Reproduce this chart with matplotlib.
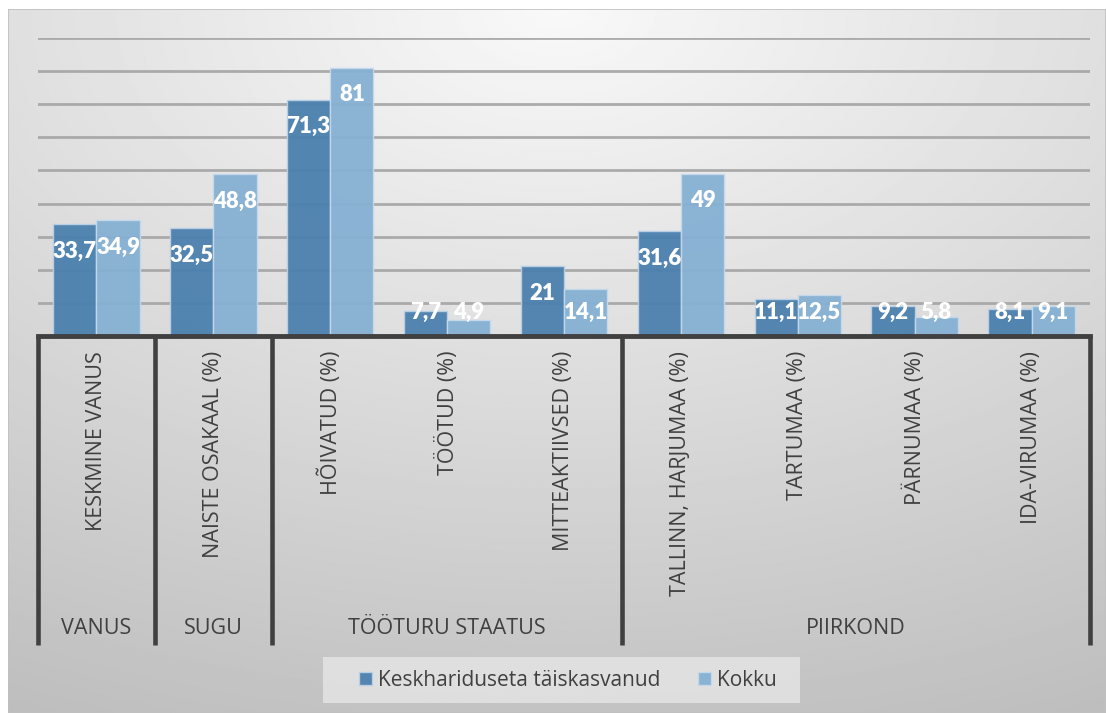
import numpy as np
import matplotlib
matplotlib.use('Agg')
import matplotlib.pyplot as plt
import matplotlib.transforms as mtransforms
from matplotlib.patches import Rectangle

# data
categories = ['KESKMINE VANUS', 'NAISTE OSAKAAL (%)', 'HÕIVATUD (%)', 'TÖÖTUD (%)',
              'MITTEAKTIIVSED (%)', 'TALLINN, HARJUMAA (%)', 'TARTUMAA (%)',
              'PÄRNUMAA (%)', 'IDA-VIRUMAA (%)']
groups = ['VANUS', 'SUGU', 'TÖÖTURU STAATUS', 'PIIRKOND']
group_sizes = [1, 1, 3, 4]
keskhar = [33.7, 32.5, 71.3, 7.7, 21, 31.6, 11.1, 9.2, 8.1]
kokku = [34.9, 48.8, 81, 4.9, 14.1, 49, 12.5, 5.8, 9.1]
series_names = ['Keskhariduseta täiskasvanud', 'Kokku']

W, H = 1106, 713
dark = '#4b80ae'
light = '#85b0d3'
txt = '#404040'

fig = plt.figure(figsize=(W / 100, H / 100), dpi=100)
fig.patch.set_facecolor('white')

# gradient background of chart area
bg = fig.add_axes([8 / W, 0, 1 - 8 / W, 1 - 9 / H])
bg.set_axis_off()
yy, xx = np.mgrid[0:1:300j, 0:1:500j]
d = np.sqrt(((xx - 0.5) * 1.0) ** 2 + (yy * 1.05) ** 2)
img = 0.975 - 0.2 * d
bg.imshow(img, cmap='gray', vmin=0, vmax=1, aspect='auto', extent=[0, 1, 1, 0])
bg.set_xlim(0, 1)
bg.set_ylim(1, 0)
bg.add_patch(Rectangle((0, 0), 1, 1, fill=False, edgecolor='#c0c0c0', lw=1.2))

ax = fig.add_axes([38 / W, (H - 336) / H, 1052 / W, 298 / H])
ax.patch.set_alpha(0)
x = np.arange(len(categories))
bw = 0.37
ax.set_xlim(-0.5, len(categories) - 0.5)
ax.set_ylim(0, 90)
ax.set_yticks(np.arange(10, 91, 10))
ax.grid(axis='y', color='#a4a4a4', lw=2, alpha=0.9)
ax.set_axisbelow(True)
for s in ax.spines.values():
    s.set_visible(False)
ax.tick_params(left=False, bottom=False, labelleft=False, labelbottom=False)

b1 = ax.bar(x - bw / 2, keskhar, bw, color=dark, edgecolor='#b9d0e6', lw=1, alpha=0.95,
            label=series_names[0], zorder=3)
b2 = ax.bar(x + bw / 2, kokku, bw, color=light, edgecolor='#c4d9ec', lw=1, alpha=0.95,
            label=series_names[1], zorder=3)

for xs, vals in [(x - bw / 2, keskhar), (x + bw / 2, kokku)]:
    for xi, v in zip(xs, vals):
        ly = max(v - 8.1, 7.2)
        ax.text(xi, ly, f'{v:g}'.replace('.', ','), ha='center', va='center',
                color='white', fontsize=16, fontweight='heavy', family='Lato', zorder=5)

ax.axhline(0, color=txt, lw=3.5, zorder=6, clip_on=False)

# multi level category axis
trans = mtransforms.blended_transform_factory(ax.transData, fig.transFigure)
y_top = (H - 336) / H
y_bot = (H - 645) / H
bounds = np.concatenate([[0], np.cumsum(group_sizes)]) - 0.5
for b in bounds:
    ax.plot([b, b], [y_top, y_bot], color=txt, lw=3.3, transform=trans, clip_on=False,
            solid_capstyle='butt', zorder=6)

for xi, c in zip(x, categories):
    ax.text(xi, (H - 351) / H, c, rotation=90, ha='center', va='top', color=txt,
            fontsize=15.5, family='Open Sans', transform=trans)

for g, a, b in zip(groups, bounds[:-1], bounds[1:]):
    ax.text((a + b) / 2, (H - 629) / H, g, ha='center', va='center', color=txt,
            fontsize=15.5, family='Open Sans', transform=trans)

# legend with its own box
fig.patches.append(Rectangle((323 / W, (H - 703) / H), 477 / W, 46 / H,
                             transform=fig.transFigure, facecolor='#e2e2e2',
                             edgecolor='none', alpha=0.9, zorder=1))
leg = fig.legend(handles=[b1, b2], labels=series_names, loc='center',
                 bbox_to_anchor=(568 / W, (H - 680) / H), ncol=2, frameon=False,
                 prop={'family': 'Open Sans', 'size': 15}, handlelength=0.6,
                 handleheight=0.6, handletextpad=0.3, columnspacing=1.8,
                 borderpad=0.45, borderaxespad=0)
for t in leg.get_texts():
    t.set_color(txt)

fig.savefig('out.png', dpi=100)
